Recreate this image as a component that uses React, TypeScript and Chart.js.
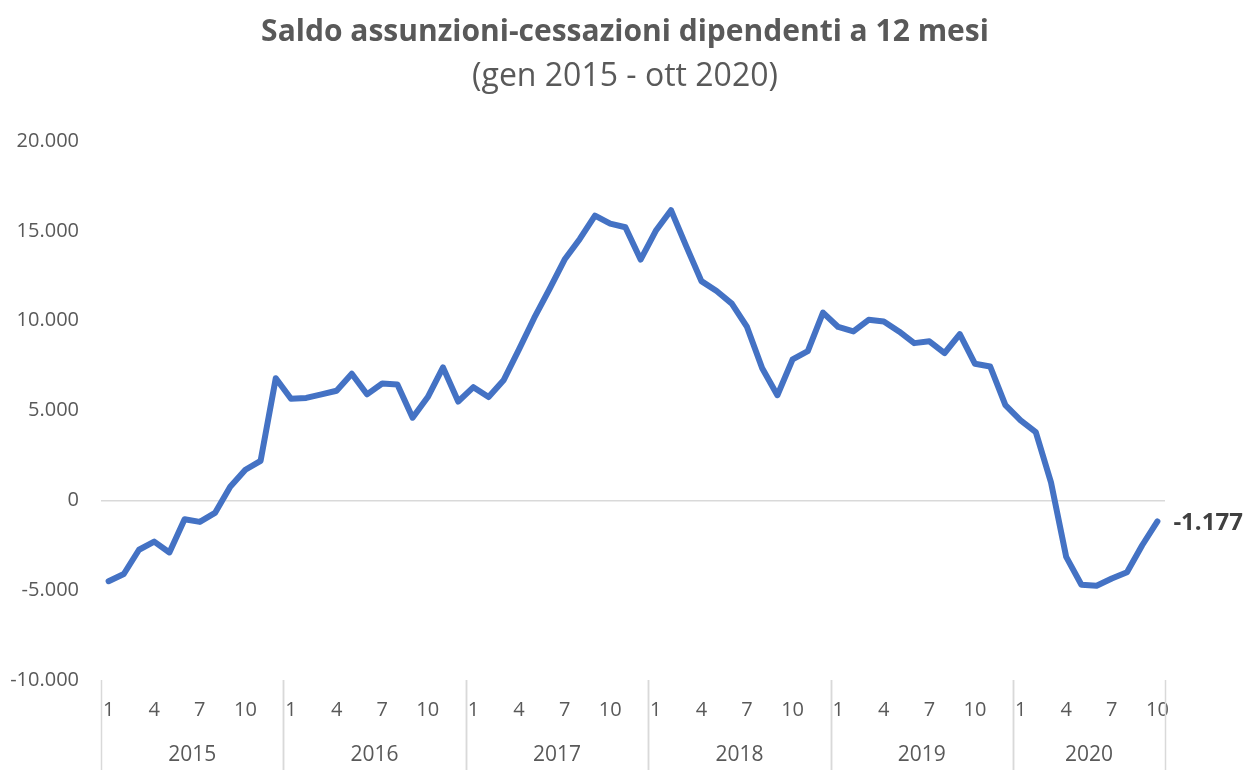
import React, { useEffect, useRef } from 'react';
import { Chart, registerables } from 'chart.js';

Chart.register(...registerables);

const years = ['2015', '2016', '2017', '2018', '2019', '2020'];
const s2015 = [-4500, -4100, -2750, -2300, -2900, -1050, -1200, -700, 750, 1700, 2200, 6800];
const s2016 = [5650, 5700, 5900, 6100, 7050, 5900, 6500, 6450, 4600, 5750, 7400, 5500];
const s2017 = [6300, 5750, 6700, 8400, 10150, 11750, 13400, 14550, 15850, 15400, 15200, 13400];
const s2018 = [15000, 16150, 14150, 12200, 11650, 10950, 9650, 7350, 5850, 7850, 8300, 10450];
const s2019 = [9650, 9400, 10050, 9950, 9400, 8750, 8850, 8200, 9250, 7600, 7450, 5300];
const s2020 = [4450, 3800, 1000, -3150, -4700, -4750, -4350, -4000, -2500, -1177];
const seriesByYear = [s2015, s2016, s2017, s2018, s2019, s2020];
const monthTicks = [1, 4, 7, 10];
const titleText = 'Saldo assunzioni-cessazioni dipendenti a 12 mesi';
const subtitleText = '(gen 2015 - ott 2020)';
const lastValueLabel = '-1.177';

const labels: string[] = [];
const monthNums: number[] = [];
const values: number[] = [];
const yearStart: number[] = [];
const yearEnd: number[] = [];
years.forEach((y, yi) => {
  yearStart.push(labels.length);
  seriesByYear[yi].forEach((v, mi) => {
    labels.push(`${mi + 1}/${y}`);
    monthNums.push(mi + 1);
    values.push(v);
  });
  yearEnd.push(labels.length - 1);
});

const fmt = (n: number) => {
  const s = Math.abs(n).toString().replace(/\B(?=(\d{3})+(?!\d))/g, '.');
  return (n < 0 ? '-' : '') + s;
};

const FONT = "'Open Sans', 'Liberation Sans', sans-serif";
const TEXT = '#595959';

const yearPlugin = {
  id: 'yearGroups',
  afterDraw(chart: any) {
    const xs = chart.scales.x;
    const ctx = chart.ctx;
    const area = chart.chartArea;
    const band = xs.getPixelForValue(1) - xs.getPixelForValue(0);
    ctx.save();
    ctx.strokeStyle = '#d9d9d9';
    ctx.lineWidth = 1.5;
    ctx.fillStyle = TEXT;
    ctx.font = `21px ${FONT}`;
    ctx.textAlign = 'center';
    ctx.textBaseline = 'middle';
    years.forEach((y, yi) => {
      const left = xs.getPixelForValue(yearStart[yi]) - band / 2;
      const right = xs.getPixelForValue(yearEnd[yi]) + band / 2;
      [left, right].forEach((bx) => {
        ctx.beginPath();
        ctx.moveTo(Math.round(bx) + 0.5, area.bottom);
        ctx.lineTo(Math.round(bx) + 0.5, area.bottom + 90);
        ctx.stroke();
      });
      ctx.fillText(y, (left + right) / 2, area.bottom + 75);
    });
    // last value label
    const meta = chart.getDatasetMeta(0);
    const last = meta.data[meta.data.length - 1];
    ctx.fillStyle = '#404040';
    ctx.font = `bold 24px ${FONT}`;
    ctx.textAlign = 'left';
    ctx.fillText(lastValueLabel, last.x + 16, last.y + 2);
    ctx.restore();
  },
};

export default function App() {
  const ref = useRef<HTMLCanvasElement>(null);
  useEffect(() => {
    if (!ref.current) return;
    const chart = new Chart(ref.current, {
      type: 'line',
      data: {
        labels,
        datasets: [
          {
            data: values,
            borderColor: '#4472C4',
            borderWidth: 6,
            pointRadius: 0,
            tension: 0,
            borderJoinStyle: 'round',
            borderCapStyle: 'round',
            fill: false,
            yAxisID: 'y',
          },
        ],
      },
      options: {
        animation: false,
        responsive: false,
        layout: { padding: 0 },
        plugins: {
          legend: { display: false },
          tooltip: { enabled: false },
          title: {
            display: true,
            text: titleText,
            color: TEXT,
            font: { family: FONT, size: 30, weight: 'bold', lineHeight: 1.2 },
            padding: { top: 14, bottom: 0 },
          },
          subtitle: {
            display: true,
            text: subtitleText,
            color: TEXT,
            font: { family: FONT, size: 32, weight: 'normal', lineHeight: 1.2 },
            padding: { top: 8, bottom: 44.6 },
          },
        },
        scales: {
          x: {
            type: 'category',
            offset: true,
            grid: { display: false, drawTicks: false },
            border: { display: false },
            ticks: {
              autoSkip: false,
              maxRotation: 0,
              minRotation: 0,
              padding: 18,
              color: TEXT,
              font: { family: FONT, size: 20 },
              callback: (_v: any, i: number) =>
                monthTicks.includes(monthNums[i]) ? String(monthNums[i]) : '',
            },
            afterFit: (s: any) => {
              s.height = 101;
            },
          },
          y: {
            min: -10000,
            max: 20000,
            ticks: {
              stepSize: 5000,
              padding: 22,
              color: TEXT,
              font: { family: FONT, size: 20 },
              callback: (v: any) => fmt(Number(v)),
            },
            grid: {
              drawTicks: false,
              color: (c: any) => (c.tick && c.tick.value === 0 ? '#d9d9d9' : 'rgba(0,0,0,0)'),
              lineWidth: 1.5,
            },
            border: { display: false },
            afterFit: (s: any) => {
              s.width = 101;
            },
          },
          yRight: {
            position: 'right',
            min: -10000,
            max: 20000,
            ticks: { display: false },
            grid: { display: false, drawTicks: false },
            border: { display: false },
            afterFit: (s: any) => {
              s.width = 85;
            },
          },
        },
      },
      plugins: [yearPlugin],
    });
    return () => chart.destroy();
  }, []);
  return (
    <div style={{ position: 'absolute', left: 0, top: 0, width: 1250, height: 781, background: '#fff' }}>
      <canvas ref={ref} width={1250} height={781} style={{ display: 'block' }} />
    </div>
  );
}
